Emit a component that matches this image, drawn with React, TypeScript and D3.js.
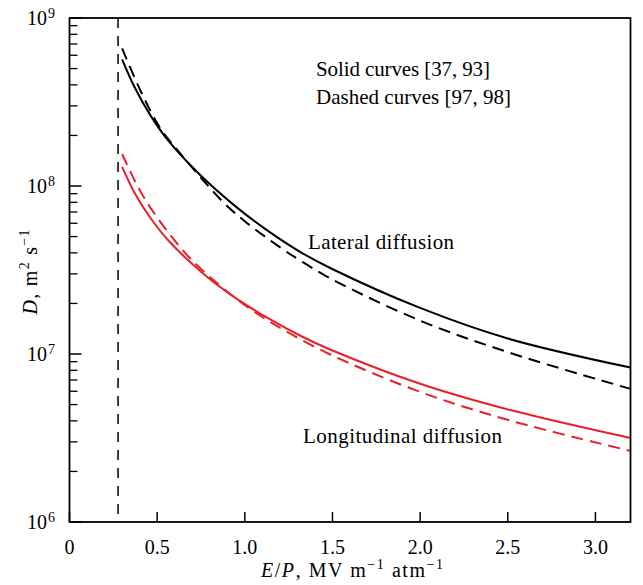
import React from "react";
import * as d3 from "d3";

const W = 643;
const H = 585;
const M = { left: 69.5, right: 12.5, top: 18, bottom: 63 };

const xTicks = [0, 0.5, 1.0, 1.5, 2.0, 2.5, 3.0];
const xTickLabels = ["0", "0.5", "1.0", "1.5", "2.0", "2.5", "3.0"];
const yDecades = [6, 7, 8, 9];
const thresholdX = 0.277;

const latSolidX = [0.30, 0.37, 0.46, 0.56, 0.75, 0.94, 1.12, 1.32, 1.49, 2.0, 2.5, 3.2];
const latSolidD = [5.68e8, 3.9e8, 2.65e8, 1.88e8, 1.15e8, 7.67e7, 5.52e7, 4.03e7, 3.24e7, 1.88e7, 1.236e7, 8.3e6];

const latDashX = [0.30, 0.41, 0.52, 0.63, 0.75, 0.88, 1.01, 1.21, 1.32, 1.49, 2.0, 2.52, 3.2];
const latDashD = [6.6e8, 3.6e8, 2.19e8, 1.57e8, 1.12e8, 7.95e7, 6.05e7, 4.25e7, 3.58e7, 2.81e7, 1.58e7, 1.01e7, 6.2e6];

const lonSolidX = [0.30, 0.37, 0.46, 0.56, 0.75, 0.94, 1.13, 1.32, 1.49, 2.0, 2.52, 3.2];
const lonSolidD = [1.3e8, 9.16e7, 6.49e7, 4.79e7, 3.09e7, 2.18e7, 1.64e7, 1.28e7, 1.06e7, 6.65e6, 4.62e6, 3.16e6];

const lonDashX = [0.30, 0.39, 0.48, 0.65, 0.75, 0.94, 1.1, 1.26, 1.49, 2.0, 2.52, 3.2];
const lonDashD = [1.55e8, 9.9e7, 6.95e7, 4.1e7, 3.21e7, 2.18e7, 1.66e7, 1.32e7, 9.9e6, 5.95e6, 4.0e6, 2.65e6];

const RED = "#e8202a";
const FONT = "Liberation Serif, Times New Roman, serif";

export default function App() {
  const x = d3.scaleLinear().domain([0, 3.2]).range([M.left, W - M.right]);
  const y = d3.scaleLog().domain([1e6, 1e9]).range([H - M.bottom, M.top]);

  const line = d3
    .line<[number, number]>()
    .x((d) => x(d[0]))
    .y((d) => y(d[1]))
    .curve(d3.curveCatmullRom.alpha(0.5));

  const zip = (a: number[], b: number[]) => a.map((v, i) => [v, b[i]] as [number, number]);

  const series = [
    { xs: latSolidX, ds: latSolidD, color: "#000", dash: undefined },
    { xs: latDashX, ds: latDashD, color: "#000", dash: "12 7" },
    { xs: lonSolidX, ds: lonSolidD, color: RED, dash: undefined },
    { xs: lonDashX, ds: lonDashD, color: RED, dash: "12 7" },
  ];

  const minorTicks: number[] = [];
  for (let e = 6; e < 9; e++) {
    for (let m = 2; m <= 9; m++) minorTicks.push(m * Math.pow(10, e));
  }

  const x0 = M.left;
  const x1 = W - M.right;
  const y0 = H - M.bottom;
  const y1 = M.top;
  const ts = { fontFamily: FONT };

  return (
    <svg
      width={W}
      height={H}
      style={{ position: "absolute", left: 0, top: 0, background: "#fff", fontFamily: FONT }}
    >
      <rect x={0} y={0} width={W} height={H} fill="#fff" />
      {series.map((s, i) => (
        <path
          key={i}
          d={line(zip(s.xs, s.ds)) || ""}
          fill="none"
          stroke={s.color}
          strokeWidth={2}
          strokeDasharray={s.dash}
        />
      ))}
      <line
        x1={x(thresholdX)}
        x2={x(thresholdX)}
        y1={y1}
        y2={y0}
        stroke="#000"
        strokeWidth={1.5}
        strokeDasharray="10 8"
      />
      <rect x={x0} y={y1} width={x1 - x0} height={y0 - y1} fill="none" stroke="#000" strokeWidth={1.8} />
      {xTicks.map((t, i) => (
        <g key={i}>
          <line x1={x(t)} x2={x(t)} y1={y0} y2={y0 - 10} stroke="#000" strokeWidth={1.5} />
          <text x={x(t)} y={554} textAnchor="middle" fontSize={20} style={ts}>
            {xTickLabels[i]}
          </text>
        </g>
      ))}
      {minorTicks.map((t, i) => (
        <line key={i} x1={x0} x2={x0 + 8} y1={y(t)} y2={y(t)} stroke="#000" strokeWidth={1.3} />
      ))}
      {yDecades.map((e) => (
        <g key={e}>
          <line x1={x0} x2={x0 + 12} y1={y(Math.pow(10, e))} y2={y(Math.pow(10, e))} stroke="#000" strokeWidth={1.5} />
          <text x={55} y={y(Math.pow(10, e)) + 7.3} textAnchor="end" fontSize={20} style={ts}>
            10
            <tspan fontSize={14} dx={1} dy={-7.5}>
              {e}
            </tspan>
          </text>
        </g>
      ))}
      <text x={352} y={577} textAnchor="middle" fontSize={20} textLength={182} lengthAdjust="spacing" style={ts}>
        <tspan fontStyle="italic">E</tspan>
        <tspan>/</tspan>
        <tspan fontStyle="italic">P</tspan>
        <tspan>, MV m</tspan>
        <tspan fontSize={14} dy={-8}>−1</tspan>
        <tspan dy={8}> atm</tspan>
        <tspan fontSize={14} dy={-8}>−1</tspan>
      </text>
      <text
        transform={`translate(37, 272) rotate(-90)`}
        textAnchor="middle"
        fontSize={20}
        textLength={85}
        lengthAdjust="spacing"
        style={ts}
      >
        <tspan fontStyle="italic">D</tspan>
        <tspan>, m</tspan>
        <tspan fontSize={14} dy={-8}>2</tspan>
        <tspan dy={8}> s</tspan>
        <tspan fontSize={14} dy={-8}>−1</tspan>
      </text>
      <text x={316} y={76} fontSize={21} textLength={174} lengthAdjust="spacing" style={ts}>Solid curves [37, 93]</text>
      <text x={316} y={104} fontSize={21} textLength={195} lengthAdjust="spacing" style={ts}>Dashed curves [97, 98]</text>
      <text x={308} y={249} fontSize={21} textLength={146} lengthAdjust="spacing" style={ts}>Lateral diffusion</text>
      <text x={303} y={443} fontSize={21} textLength={199} lengthAdjust="spacing" style={ts}>Longitudinal diffusion</text>
    </svg>
  );
}
